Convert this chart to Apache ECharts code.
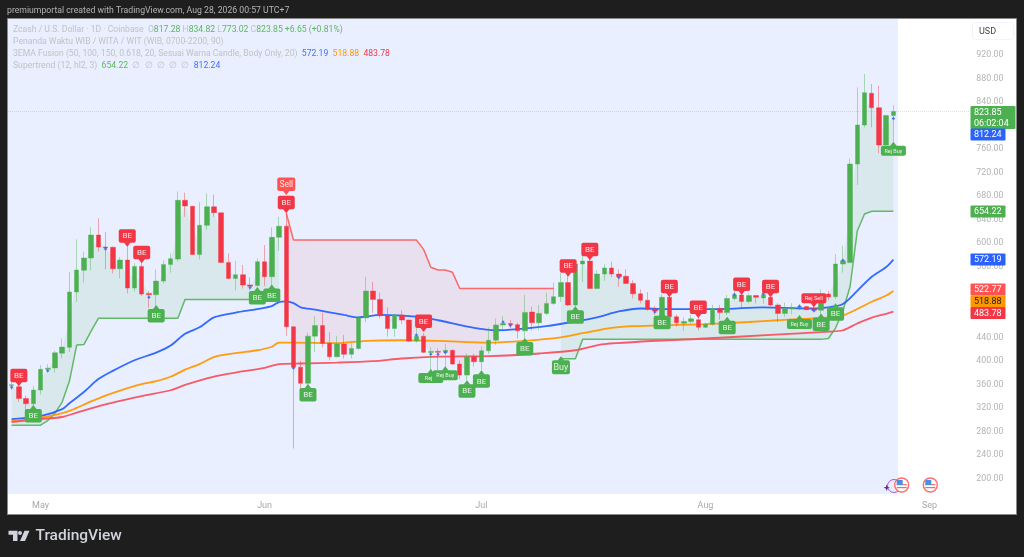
<!DOCTYPE html>
<html>
<head>
<meta charset="utf-8">
<title>Zcash / U.S. Dollar 1D</title>
<script src="https://cdn.jsdelivr.net/npm/echarts@6/dist/echarts.min.js"></script>
<style>
  html, body { margin: 0; padding: 0; background: #1e1e1e; }
  #main { width: 1024px; height: 557px; }
</style>
</head>
<body>
<div id="main"></div>
<script>
// candles, one per day, Apr 27 -> Aug 27
var opens = [
  358,356,336,327,350.3,385.5,388,413,423,517,
  554,574.8,613.9,593.5,593,556.6,571.4,523.7,560.6,514.6,
  512.4,535.6,564,573,673,663,581,630.4,662,651.8,
  567.4,540,546.4,529,528,568.5,543,610,629,458,
  389,361.7,442,460,430,407,428.5,411,421,473,
  518.6,504.5,476.6,455,478,469.3,433.6,442,414,416,
  414.5,418,394.5,375.8,407,398.4,417,435,461,463.5,
  461.5,451,483,464.7,480.7,497.7,509,533,495,564.6,
  569.7,523,547.6,558,547.6,544,531.7,514,503,488,
  475,508,475,464,467,470,457,462,489,482,
  506,512,501,511,507,508,495,480.7,488,490,
  492.5,489,486,513.5,509,564.5,567,734.6,801,855,
  830.4,767,817.28];
var closes = [
  359.5,336,327,350.3,385.5,387.5,413.7,423.4,517,554.3,
  574.8,613.9,593.5,592,556.6,571.4,523.7,560.6,513.5,512.4,
  535.6,564,573.6,672.9,663.2,581,630.4,662,651.8,567.4,
  540.2,546.4,528.8,527,568.5,543,610,629,458,388.9,
  361.7,442,460,429.7,407,428.5,411,421,473,518.6,
  504.5,476.6,455,478,469.3,433.6,442,414.4,416,414.5,
  418,394.5,375.8,407,398.4,417,435,461,463.5,461.5,
  451,482.4,464.7,480.7,497.7,509,533.4,495,564.6,569.7,
  523,547.6,558,547.6,543,531.7,514,503,487.6,484.6,
  508,475,464.7,467,471.5,457,462,489,482,506,
  512,501,511,508,512.5,495,480.7,488.5,491,492.5,
  487,486,513.5,508.5,564.5,570,734.6,801,856,830.4,
  767,817.28,823.85];
var lows = [
  350,330,316,323,343,380,380,404,415,500,
  533,554,585.5,555.5,548.7,540,514.7,517.5,510,490,
  492,531.7,549.8,569,645,580,572.5,622.4,645,567,
  539,520,523,520,526,527,526,587,442,251,
  350,358.8,415,423,401,406,404,404,418.5,466,
  482,472,441,441,462.5,432,431,413,384,384,
  384,393,368.5,367,390,384,411.5,427,453.5,455,
  438,438,452,452,478,495,500,493,490,534,
  522,522,536,542,526,530.5,506,497.7,485,478,
  473,474,458,451,463,452,456,460,470,478,
  503,489,497.7,497.7,497,493,466,475,479,486,
  486,485,478,503,505,550,566,699,797,797,
  753,766,773.02];
var highs = [
  367,360,340.6,357,392.8,394,417,438,551,606.6,
  585.5,627,642.3,619,594.5,576.5,595,566,571,519,
  555.5,571,582.8,688,686,663.5,669.5,684.8,682.4,652,
  582.8,570,563,542,574,596.9,627,645,650,459,
  400,448,476,482,449,442,444,430,476,543,
  534.5,516,491,480,486,470,462,447,423,421,
  428.5,419,401,412.7,412,424,457,472,476,469.3,
  464.7,512,492,495,516,533,549,546,570,588,
  572,554,564.5,568.5,555.5,555.5,537,521.5,517,493,
  513.5,512,479,474,478,484,465,495,495,512,
  522,520,515,512,529,520,498,499,498,496.5,
  493,513,521.5,519,581,595.7,744,865,887.7,870.7,
  867.8,818,834.82];

// supertrend, one value per day, null while the other side is active
var superUp = [
  290.7,290.7,290.7,290.7,290.7,298.4,311.1,329.9,365.6,426.8,
  427.6,450.6,472.3,472.3,472.3,472.3,472.3,472.3,472.3,472.3,
  472.3,472.3,472.3,472.3,504.5,504.5,504.5,504.5,504.5,504.5,
  504.5,504.5,504.5,504.5,504.5,504.5,504.5,504.5,null,null,
  null,null,null,null,null,null,null,null,null,null,
  null,null,null,null,null,null,null,null,null,null,
  null,null,null,null,null,null,null,null,null,null,
  null,null,null,null,null,null,403.5,403.5,403.5,436.5,
  436.5,436.5,436.5,436.5,436.5,436.5,436.5,436.5,436.5,436.5,
  436.5,436.5,436.5,436.5,436.5,436.5,436.5,436.5,436.5,436.5,
  436.5,436.5,436.5,436.5,436.5,436.5,436.5,436.5,436.5,436.5,
  436.5,436.5,436.5,438,455.7,484.6,526,620.7,649.6,654.22,
  654.22,654.22,654.22];
var superDown = [
  null,null,null,null,null,null,null,null,null,null,
  null,null,null,null,null,null,null,null,null,null,
  null,null,null,null,null,null,null,null,null,null,
  null,null,null,null,null,null,null,null,651,605.4,
  605.4,605.4,605.4,605.4,605.4,605.4,605.4,605.4,605.4,605.4,
  605.4,605.4,605.4,605.4,605.4,605.4,605.4,589.5,559,554.4,
  554.4,550.5,523,523,523,523,523,523,523,523,
  523,523,523,523,523,523,null,null,null,null,
  null,null,null,null,null,null,null,null,null,null,
  null,null,null,null,null,null,null,null,null,null,
  null,null,null,null,null,null,null,null,null,null,
  null,null,null,null,null,null,null,null,null,null,
  null,null,null];

// EMA readings, category index of each reading next to its value
var blueDays = [0,4,7,8,10,12,14,17,20,22,24,26,28,31,34,36,37,38,39,40,42,46,48,51,56,59,64,67,70,74,78,81,84,87,92,98,104,110,113,115,117,119,121,122];
var emaBlue = [301,306,318,328,347,369,383,401,414,426,446,457,474,482,488,493,500,501,498,491,487,478,474,478,475,469,456,452,454,459,467,474,484,489,488,488,491,489,491,496.5,519,543,559.5,572.19];
var orangeDays = [0,4,6,8,11,13,15,18,20,22,24,26,28,31,34,36,37,39,45,49,54,59,66,71,76,79,83,86,92,96,102,106,112,115,119,121,122];
var emaOrange = [297.5,303.5,308,315,331,341,349.5,360.5,365.5,373,385,394.5,406.5,413,418,424,431,431,430,434,435,434,431,434,440,447,456,459,461,462.5,466,469,473,477,500.5,511,518.88];
var redDays = [0,4,7,9,13,18,22,24,28,31,35,37,40,45,50,54,59,66,73,78,82,96,105,113,115,117,119,121,122];
var emaRed = [296,301,304.5,312,326,340,350,359,373,380,388,394.5,395.5,397,399.5,404,407,408,412.5,418,428.5,438,444,449.5,452,463.5,473.5,480,483.78];

// signal labels: category index, price at the pointer tip
var beRedDays = [1,16,18,38,57,77,80,91,95,101,105];
var beRedPrices = [357,594,566,651,449,543,571,508,473,512,508];
var beGreenDays = [3,20,34,36,41,63,65,71,78,90,99,112,114];
var beGreenPrices = [325,495,525.5,530,360.5,367,384,439,493,483.5,475,480.7,498];
var rejBuyDays = [58,60,109,122];
var rejBuyPrices = [386,391,478,772.5];
var rejBuyTexts = ['Rej E','Rej Buy','Rej Buy','Rej Buy'];
var rejSellDays = [111];
var rejSellPrices = [491];
var sellDays = [38];
var sellPrices = [682];
var buyDays = [76];
var buyPrices = [408];

// small blue ticks next to the doji candles
var dotDays = [0,5,13,19,33,39,56,58,59,60,68,69,84,89,100,104,109,111,115,122];
var dotPrices = [355,383,590,508,524.6,388,444,411,411,414,466,460,541.6,483,513,514,493,485,571,812.24];

var priceTicks = [200,240,280,320,360,400,440,480,520,560,600,640,680,720,760,800,840,880,920];

var tagClose = '823.85';
var tagCountdown = '06:02:04';
var tagSuperBlue = '812.24';
var tagSuperGreen = '654.22';
var tagEmaBlue = '572.19';
var tagSell = '522.77';
var tagEmaOrange = '518.88';
var tagEmaRed = '483.78';

var GREEN = '#4caf50', RED = '#f23645', BLUE = '#2962ff', ORANGE = '#ff9800', LRED = '#ff5252';
var FONT = 'Roboto, sans-serif';
var LEGEND_FONT = '8.65px ' + FONT;

var categories = [];
for (var c = 0; c < 133; c++) {
  var dt = new Date(2026, 3, 27 + c);
  categories.push(['Jan','Feb','Mar','Apr','May','Jun','Jul','Aug','Sep','Oct','Nov','Dec'][dt.getMonth()] + ' ' + dt.getDate());
}

function zip(a, b) {
  return a.map(function (v, i) { return [v, b[i]]; });
}

// polygon between the supertrend and the middle of the candle body
function fillSeries(trend, color) {
  var starts = [];
  trend.forEach(function (v, i) {
    if (v !== null && (i === 0 || trend[i - 1] === null)) starts.push(i);
  });
  return {
    type: 'custom', z: 1, silent: true, clip: true,
    data: starts.map(function (s) { return [s, trend[s]]; }),
    encode: { x: 0, y: 1 },
    renderItem: function (params, api) {
      var top = [], bottom = [];
      for (var i = api.value(0); i < trend.length && trend[i] !== null; i++) {
        top.push(api.coord([i, trend[i]]));
        bottom.unshift(api.coord([i, (opens[i] + closes[i]) / 2]));
      }
      return { type: 'polygon', shape: { points: top.concat(bottom) }, style: { fill: color } };
    }
  };
}

// rounded box with a pointer, above the tip (dir -1) or below it (dir 1)
function pinSeries(days, prices, texts, color, dir, w, h, fs) {
  return {
    type: 'custom', z: 12, silent: true, clip: false,
    data: zip(days, prices).map(function (r, i) { return [r[0], r[1], i]; }),
    encode: { x: 0, y: 1 },
    renderItem: function (params, api) {
      var p = api.coord([api.value(0), api.value(1)]);
      var x = p[0], y = p[1], ph = 4;
      var boxY = dir < 0 ? y - ph - h : y + ph;
      var baseY = y + dir * (ph + 0.5);
      var t = typeof texts === 'string' ? texts : texts[api.value(2)];
      return {
        type: 'group',
        children: [
          { type: 'rect', shape: { x: x - w / 2, y: boxY, width: w, height: h, r: 2 }, style: { fill: color } },
          { type: 'polygon', shape: { points: [[x, y], [x - 3.5, baseY], [x + 3.5, baseY]] }, style: { fill: color } },
          { type: 'text', style: { text: t, x: x, y: boxY + h / 2 + 0.5, align: 'center', verticalAlign: 'middle', fill: '#fff', font: fs + 'px ' + FONT, opacity: 0.85 } }
        ]
      };
    }
  };
}

function emaSeries(days, values, color) {
  return {
    type: 'line', z: 3, silent: true, showSymbol: false, smooth: 0.3,
    data: zip(days, values),
    lineStyle: { color: color, width: 1.8, opacity: 0.95 }
  };
}

function trendSeries(values, color) {
  return {
    type: 'line', z: 2, silent: true, showSymbol: false, connectNulls: false,
    data: values,
    lineStyle: { color: color, width: 1.5, opacity: 0.85 }
  };
}

function label(text, x, y, fill, size) {
  return { type: 'text', z: 1, silent: true, style: { text: text, x: x, y: y, fill: fill, font: (size ? size + 'px ' + FONT : LEGEND_FONT), verticalAlign: 'middle' } };
}

function priceTag(lines, top, color, width, textColor) {
  var h = lines.length * 11 + 1;
  return [
    { type: 'rect', z: 50, silent: true, shape: { x: 970.5, y: top, width: width, height: h, r: 1 }, style: { fill: color } },
    { type: 'text', z: 51, silent: true, style: { text: lines.join('\n'), x: 974, y: top + h / 2 + 0.5, fill: textColor || '#fff', font: '9px ' + FONT, lineHeight: 11, verticalAlign: 'middle' } }
  ];
}

function flagIcon(cx, cy) {
  return [
    { type: 'circle', z: 6, silent: true, shape: { cx: cx, cy: cy, r: 7 }, style: { fill: '#fff', stroke: '#ff6b6b', lineWidth: 1.4 } },
    { type: 'rect', z: 7, silent: true, shape: { x: cx - 5, y: cy - 1, width: 10, height: 1.2 }, style: { fill: '#f66' } },
    { type: 'rect', z: 7, silent: true, shape: { x: cx - 5, y: cy + 2, width: 10, height: 1.2 }, style: { fill: '#f66' } },
    { type: 'rect', z: 7, silent: true, shape: { x: cx - 5, y: cy - 5, width: 6, height: 5 }, style: { fill: '#4a90e2' } }
  ];
}

var graphics = [
  // frame
  { type: 'rect', z: -10, silent: true, shape: { x: 7.5, y: 18.5, width: 1009, height: 496 }, style: { fill: '#fff', stroke: '#8a8a8a', lineWidth: 1 } },
  { type: 'rect', z: -9, silent: true, shape: { x: 8, y: 19, width: 890, height: 475 }, style: { fill: '#e9effe' } },

  label('premiumportal created with TradingView.com, Aug 28, 2026 00:57 UTC+7', 7, 11, '#b4b4b4', 8.7),

  // legend
  { type: 'text', z: 1, silent: true, style: {
    x: 13, y: 30, verticalAlign: 'middle', font: LEGEND_FONT, fill: '#c2c2c2',
    text: 'Zcash / U.S. Dollar · 1D · Coinbase  O{u|817.28} H{u|834.82} L{u|773.02} C{u|823.85} {u|+6.65 (+0.81%)}',
    rich: { u: { fill: '#5cb860', font: LEGEND_FONT } }
  } },
  label('Penanda Waktu WIB / WITA / WIT (WIB, 0700-2200, 90)', 13, 42, '#c2c2c2'),
  { type: 'text', z: 1, silent: true, style: {
    x: 13, y: 54, verticalAlign: 'middle', font: LEGEND_FONT, fill: '#c2c2c2',
    text: '3EMA Fusion (50, 100, 150, 0.618, 20, Sesuai Warna Candle, Body Only, 20)  {b|572.19}  {o|518.88}  {r|483.78}',
    rich: { b: { fill: '#3f72ff', font: LEGEND_FONT }, o: { fill: ORANGE, font: LEGEND_FONT }, r: { fill: RED, font: LEGEND_FONT } }
  } },
  { type: 'text', z: 1, silent: true, style: {
    x: 13, y: 66, verticalAlign: 'middle', font: LEGEND_FONT, fill: '#c2c2c2',
    text: 'Supertrend (12, hl2, 3)  {g|654.22}  ∅  ∅  ∅  ∅  ∅  {b|812.24}',
    rich: { g: { fill: '#5cb860', font: LEGEND_FONT }, b: { fill: '#3f72ff', font: LEGEND_FONT } }
  } },

  // currency button
  { type: 'rect', z: 1, silent: true, shape: { x: 972.5, y: 22.5, width: 41, height: 17, r: 3 }, style: { fill: '#fff', stroke: '#f0f3fa', lineWidth: 1 } },
  label('USD', 979, 31.5, '#444', 9),

  // calendar icons
  { type: 'circle', z: 5, silent: true, shape: { cx: 894, cy: 486, r: 6.5 }, style: { fill: 'none', stroke: '#a855d8', lineWidth: 1 } },
  { type: 'polygon', z: 6, silent: true, shape: { points: [[886.7, 484.5], [887.6, 486.9], [890, 487.7], [887.6, 488.5], [886.7, 491], [885.8, 488.5], [883.4, 487.7], [885.8, 486.9]] }, style: { fill: '#5b2aa0' } },

  // TradingView logo
  { type: 'polygon', z: 1, silent: true, shape: { points: [[8.5, 530.7], [17.5, 530.7], [17.5, 541], [13, 541], [13, 534.8], [8.5, 534.8]] }, style: { fill: '#d1d4dc' } },
  { type: 'circle', z: 1, silent: true, shape: { cx: 20, cy: 533, r: 2 }, style: { fill: '#d1d4dc' } },
  { type: 'polygon', z: 1, silent: true, shape: { points: [[24.5, 530.7], [29.5, 530.7], [25, 541], [20, 541]] }, style: { fill: '#d1d4dc' } },
  { type: 'text', z: 1, silent: true, style: { text: 'TradingView', x: 35.5, y: 536, fill: '#d1d4dc', font: '500 15.5px ' + FONT, verticalAlign: 'middle' } }
]
  .concat(flagIcon(901.7, 485))
  .concat(flagIcon(930.3, 485))
  .concat(priceTag([tagClose, tagCountdown], 106, GREEN, 45))
  .concat(priceTag([tagSuperBlue], 128.5, BLUE, 35))
  .concat(priceTag([tagSuperGreen], 205.5, GREEN, 35))
  .concat(priceTag([tagEmaBlue], 253.5, BLUE, 35))
  .concat(priceTag([tagSell], 283.5, LRED, 35))
  .concat(priceTag([tagEmaOrange], 295.5, ORANGE, 35, '#222'))
  .concat(priceTag([tagEmaRed], 307, RED, 35));

var chart = echarts.init(document.getElementById('main'), null, { renderer: 'canvas' });

chart.setOption({
  animation: false,
  backgroundColor: '#1e1e1e',
  textStyle: { fontFamily: FONT },
  graphic: { elements: graphics },
  grid: { left: 8, right: 54.7, top: 19, bottom: 63 },
  xAxis: {
    type: 'category',
    data: categories,
    axisLine: { show: false },
    axisTick: { show: false },
    splitLine: { show: false },
    axisLabel: {
      color: '#a8a8a8', fontSize: 9, margin: 7,
      interval: function (i, value) { return / 1$/.test(value); },
      formatter: function (value) { return value.split(' ')[0]; }
    }
  },
  yAxis: {
    type: 'value',
    position: 'right',
    min: 173.6,
    max: 981.2,
    axisLine: { show: false },
    axisTick: { show: false },
    splitLine: { show: false },
    axisLabel: {
      color: '#b4b4b4', fontSize: 8.8, margin: 7,
      customValues: priceTicks,
      formatter: function (v) { return v.toFixed(2); }
    }
  },
  series: [
    fillSeries(superUp, 'rgba(76,175,80,0.1)'),
    fillSeries(superDown, 'rgba(242,54,69,0.08)'),
    trendSeries(superUp, GREEN),
    trendSeries(superDown, LRED),
    emaSeries(blueDays, emaBlue, BLUE),
    emaSeries(orangeDays, emaOrange, ORANGE),
    emaSeries(redDays, emaRed, '#f7525f'),
    {
      type: 'candlestick', z: 5, silent: true, barWidth: 5,
      data: opens.map(function (o, i) { return [o, closes[i], lows[i], highs[i]]; }),
      itemStyle: {
        color: GREEN, color0: RED,
        borderColor: 'rgba(76,175,80,0.42)', borderColor0: 'rgba(242,54,69,0.42)',
        borderColorDoji: 'rgba(76,175,80,0.42)', borderWidth: 1
      },
      markLine: {
        silent: true, symbol: 'none', animation: false,
        data: [{ yAxis: 823.85 }],
        label: { show: false },
        lineStyle: { color: 'rgba(76,175,80,0.25)', type: 'dotted', width: 1 }
      }
    },
    {
      type: 'scatter', z: 6, silent: true, symbol: 'diamond', symbolSize: 3.5,
      data: zip(dotDays, dotPrices),
      itemStyle: { color: BLUE }
    },
    pinSeries(beRedDays, beRedPrices, 'BE', RED, -1, 17, 13.5, 8),
    pinSeries(beGreenDays, beGreenPrices, 'BE', GREEN, 1, 17, 13.5, 8),
    pinSeries(sellDays, sellPrices, 'Sell', LRED, -1, 18, 13.5, 8.5),
    pinSeries(buyDays, buyPrices, 'Buy', GREEN, 1, 18, 14, 9),
    pinSeries(rejBuyDays, rejBuyPrices, rejBuyTexts, GREEN, 1, 25, 10, 5.5),
    pinSeries(rejSellDays, rejSellPrices, 'Rej Sell', RED, -1, 25, 10, 5.5)
  ]
});
</script>
</body>
</html>
